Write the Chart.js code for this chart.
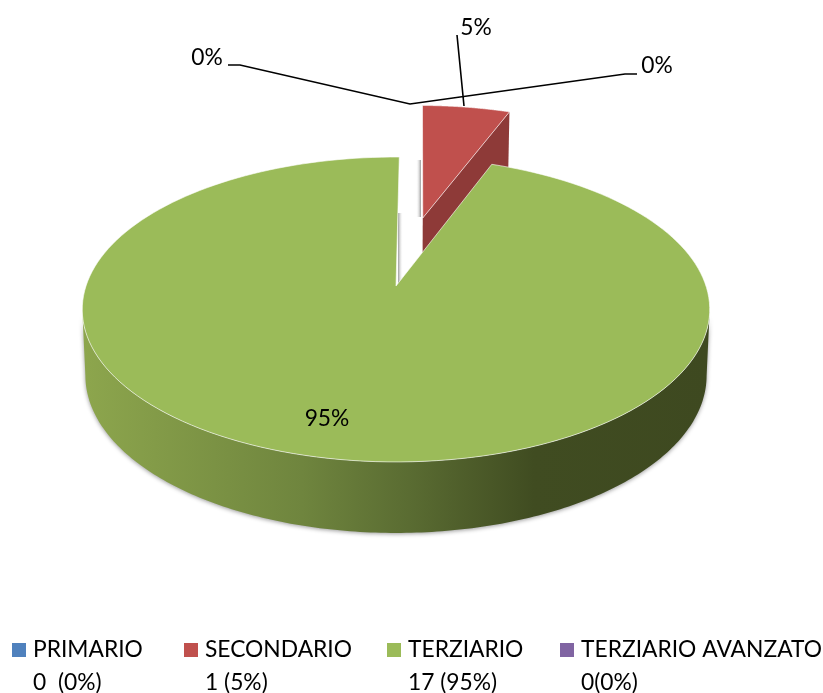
<!DOCTYPE html>
<html>
<head>
<meta charset="utf-8">
<style>
  html, body { margin: 0; padding: 0; background: #fff; }
  canvas { display: block; }
</style>
<script src="https://cdn.jsdelivr.net/npm/chart.js@4"></script>
</head>
<body>
<canvas id="pieChart" width="823" height="693"></canvas>
<script>
const categories = ['PRIMARIO', 'SECONDARIO', 'TERZIARIO', 'TERZIARIO AVANZATO'];
const counts = [0, 1, 17, 0];
const countLabels = ['0  (0%)', '1 (5%)', '17 (95%)', '0(0%)'];
const percentLabels = ['0%', '5%', '95%', '0%'];
const colors = ['#4F81BD', '#C0504D', '#9BBB59', '#8064A2'];
const sideColors = ['#3A608D', '#8E3A38', '#9BBB59', '#5E4A78'];
const explode = [0.5, 0.5, 0, 0.5];

const FONT = '22.8px Lato, "Open Sans", sans-serif';

// perspective of the tilted disc, fitted on the green ellipse
const CX = 396, RX = 310, APEX_Y = 286, TILT_Y = 104.8, W_K = -0.154;

function project(u, v, low) {
    const w = 1 + W_K * v;
    const x = CX + (low ? 0.99 : 1) * RX * u / w;
    const y = (TILT_Y * v + APEX_Y) / w;
    return { x, y: low ? y + 65 + 6 * v : y };
}

function arcPoint(arc, i, angle, r, low) {
    const mid = (arc.startAngle + arc.endAngle) / 2;
    const off = explode[i];
    const u = off * Math.cos(mid) + r * Math.cos(angle);
    const v = off * Math.sin(mid) + r * Math.sin(angle);
    return project(u, v, low);
}

function topPath(ctx, arc, i) {
    ctx.beginPath();
    const apex = arcPoint(arc, i, 0, 0);
    ctx.moveTo(apex.x, apex.y);
    const steps = 180;
    for (let s = 0; s <= steps; s++) {
        const a = arc.startAngle + (arc.endAngle - arc.startAngle) * s / steps;
        const p = arcPoint(arc, i, a, 1);
        ctx.lineTo(p.x, p.y);
    }
    ctx.closePath();
}

function drawTop(ctx, arc, i) {
    topPath(ctx, arc, i);
    ctx.fillStyle = colors[i];
    ctx.fill();
    ctx.strokeStyle = 'rgba(255,255,255,0.6)';
    ctx.lineWidth = 1;
    ctx.stroke();
}

// dark wall along the cut edge of the exploded slice
function drawCutFace(ctx, arc, i) {
    const a = arc.endAngle;
    const pts = [arcPoint(arc, i, a, 0), arcPoint(arc, i, a, 1), arcPoint(arc, i, a, 1, true), arcPoint(arc, i, a, 0, true)];
    ctx.beginPath();
    pts.forEach((p, k) => k ? ctx.lineTo(p.x, p.y) : ctx.moveTo(p.x, p.y));
    ctx.closePath();
    ctx.fillStyle = sideColors[i];
    ctx.fill();
}

// front rim of the big slice, from one side extreme of the ellipse to the other
function drawRim(ctx, arc, i) {
    const from = Math.PI * 0.05, to = Math.PI * 0.95, steps = 200;
    ctx.beginPath();
    for (let s = 0; s <= steps; s++) {
        const p = arcPoint(arc, i, from + (to - from) * s / steps, 1);
        s ? ctx.lineTo(p.x, p.y) : ctx.moveTo(p.x, p.y);
    }
    for (let s = steps; s >= 0; s--) {
        const p = arcPoint(arc, i, from + (to - from) * s / steps, 1, true);
        ctx.lineTo(p.x, p.y);
    }
    ctx.closePath();
    const g = ctx.createLinearGradient(82, 0, 710, 0);
    g.addColorStop(0, '#8DA64D');
    g.addColorStop(0.35, '#6F853E');
    g.addColorStop(0.52, '#5A6C32');
    g.addColorStop(0.72, '#404C21');
    g.addColorStop(1, '#3E4920');
    ctx.save();
    ctx.shadowColor = 'rgba(0,0,0,0.4)';
    ctx.shadowBlur = 4;
    ctx.shadowOffsetY = 1;
    ctx.fillStyle = g;
    ctx.fill();
    ctx.restore();
}

// thin grey walls of the empty slices in the gap
function drawGapShade(ctx) {
    const strips = [[398, 213, 403, 284, 0], [416, 160, 421, 217, 1]];
    strips.forEach(([x0, y0, x1, y1, darkEnd]) => {
        const g = ctx.createLinearGradient(x0, 0, x1, 0);
        g.addColorStop(darkEnd, 'rgba(120,120,120,0.75)');
        g.addColorStop(1 - darkEnd, 'rgba(255,255,255,0)');
        ctx.fillStyle = g;
        ctx.fillRect(x0, y0, x1 - x0, y1 - y0);
    });
}

const pie3d = {
    id: 'pie3d',
    beforeDatasetDraw(chart) {
        const ctx = chart.ctx;
        const arcs = chart.getDatasetMeta(0).data;
        ctx.save();
        drawGapShade(ctx);
        drawCutFace(ctx, arcs[1], 1);
        drawTop(ctx, arcs[1], 1);
        drawRim(ctx, arcs[2], 2);
        drawTop(ctx, arcs[2], 2);
        ctx.restore();
        return false;
    },
    afterDraw(chart) {
        const ctx = chart.ctx;
        ctx.save();

        // leader lines
        ctx.strokeStyle = '#000';
        ctx.lineWidth = 1.6;
        ctx.beginPath();
        ctx.moveTo(228, 65); ctx.lineTo(240, 65); ctx.lineTo(410, 104); ctx.lineTo(625, 74); ctx.lineTo(637, 74);
        ctx.moveTo(457, 35); ctx.lineTo(464, 106);
        ctx.stroke();

        // percent labels
        ctx.font = FONT;
        ctx.fillStyle = '#000';
        ctx.textAlign = 'center';
        ctx.textBaseline = 'middle';
        [[207, 58], [476, 28], [327, 419], [657, 66]].forEach((pos, i) => {
            ctx.fillText(percentLabels[i], pos[0], pos[1]);
        });

        // legend, two lines per entry
        ctx.textAlign = 'left';
        [12, 184, 387, 560].forEach((x, i) => {
            ctx.fillStyle = colors[i];
            ctx.fillRect(x, 643, 14, 14);
            ctx.fillStyle = '#000';
            ctx.fillText(categories[i], x + 21, 650);
            ctx.fillText(countLabels[i], x + 21, 683);
        });
        ctx.restore();
    }
};

new Chart(document.getElementById('pieChart'), {
    type: 'pie',
    data: {
        labels: categories,
        datasets: [{ data: counts, backgroundColor: colors }]
    },
    options: {
        responsive: false,
        animation: false,
        rotation: 0.7,
        plugins: { legend: { display: false }, tooltip: { enabled: false } }
    },
    plugins: [pie3d]
});
</script>
</body>
</html>
